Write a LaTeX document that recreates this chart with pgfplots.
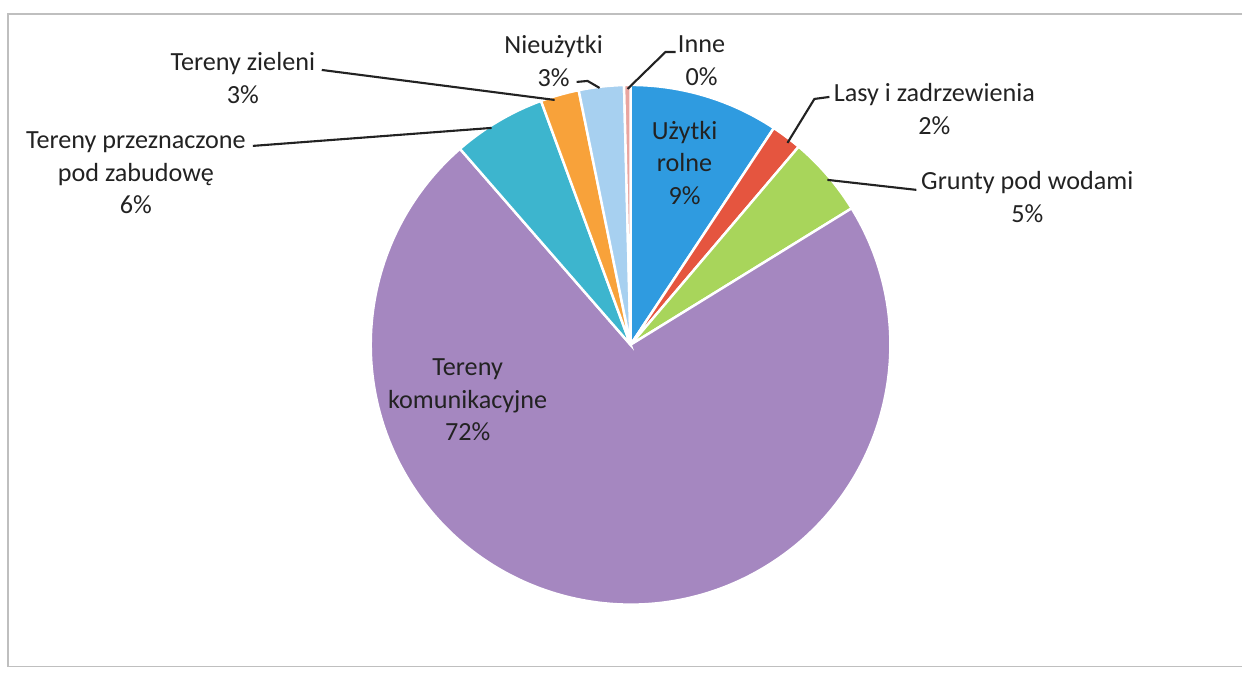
\documentclass[border=0pt]{standalone}
\usepackage{pgfplots}
\pgfplotsset{compat=1.18}
\usepackage{fontspec}
\setmainfont{Carlito}
\definecolor{cUz}{RGB}{47,155,224}
\definecolor{cLa}{RGB}{229,85,63}
\definecolor{cGr}{RGB}{168,213,91}
\definecolor{cKo}{RGB}{165,135,192}
\definecolor{cZa}{RGB}{61,181,206}
\definecolor{cZi}{RGB}{248,162,58}
\definecolor{cNi}{RGB}{167,208,240}
\definecolor{cIn}{RGB}{233,165,160}
\definecolor{txt}{RGB}{34,34,34}

\begin{document}
\begin{tikzpicture}[font=\fontsize{7.45}{9.3}\selectfont]
\def\angacc{90}
\begin{axis}[
  width=12.43cm, height=6.74cm, scale only axis,
  xmin=0, xmax=1243, ymin=0, ymax=674,
  hide axis, clip=false,
]
\path (axis cs:0,0) rectangle (axis cs:1243,674);
% chart frame
\draw[black!25,line width=0.5pt] (axis cs:1243,660) -- (axis cs:8,660) -- (axis cs:8,7) -- (axis cs:1243,7);

% ---- slices, clockwise from 12 o'clock (percent) ----
\foreach \v/\c in {9.3/cUz, 1.9/cLa, 5.0/cGr, 72.4/cKo, 5.8/cZa, 2.4/cZi, 2.8/cNi, 0.4/cIn}{
  \pgfmathsetmacro\endang{\angacc-3.6*\v}
  \edef\temp{\noexpand\fill[\c,draw=white,line width=0.7pt]
    (axis cs:631,329) -- ++(\angacc:2.6cm)
    arc[start angle=\angacc,end angle=\endang,radius=2.6cm] -- cycle;}
  \temp
  \xdef\angacc{\endang}
}

% ---- leader lines ----
\draw[txt,line width=0.6pt] (axis cs:322,604) -- (axis cs:555,574);
\draw[txt,line width=0.6pt] (axis cs:253,528) -- (axis cs:492,546);
\draw[txt,line width=0.6pt] (axis cs:577,592) -- (axis cs:588,593) -- (axis cs:600,586);
\draw[txt,line width=0.6pt] (axis cs:628,585) -- (axis cs:666,622) -- (axis cs:676,622);
\draw[txt,line width=0.6pt] (axis cs:788,531) -- (axis cs:815,575) -- (axis cs:830,577);
\draw[txt,line width=0.6pt] (axis cs:828,494) -- (axis cs:917,484);

% ---- labels ----
\node[txt,align=center,inner sep=0pt] at (axis cs:243,596) {Tereny zieleni\\3\%};
\node[txt,align=center,inner sep=0pt] at (axis cs:136,501) {Tereny przeznaczone\\pod zabudowę\\6\%};
\node[txt,align=center,inner sep=0pt] at (axis cs:554,613) {Nieużytki\\3\%};
\node[txt,align=center,inner sep=0pt] at (axis cs:702,613) {Inne\\0\%};
\node[txt,align=center,inner sep=0pt] at (axis cs:935,565) {Lasy i zadrzewienia\\2\%};
\node[txt,align=center,inner sep=0pt] at (axis cs:1028,477) {Grunty pod wodami\\5\%};
\node[txt,align=center,inner sep=0pt] at (axis cs:685,511) {Użytki\\rolne\\9\%};
\node[txt,align=center,inner sep=0pt] at (axis cs:468,274) {Tereny\\komunikacyjne\\72\%};
\end{axis}
\end{tikzpicture}
\end{document}
